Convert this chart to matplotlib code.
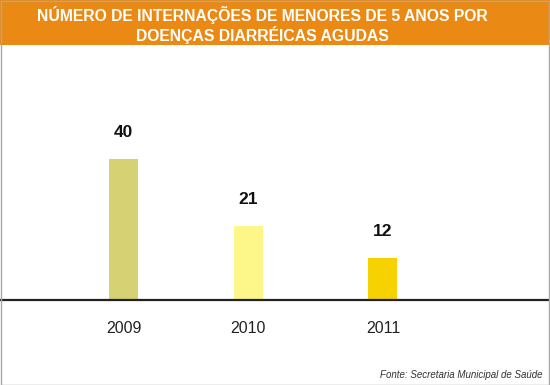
import matplotlib
matplotlib.use("Agg")
import matplotlib.pyplot as plt
from matplotlib.patches import Rectangle

years = ["2009", "2010", "2011"]
values = [40, 21, 12]
bar_colors = ["#D6D273", "#FDF689", "#F6D200"]
title = "NÚMERO DE INTERNAÇÕES DE MENORES DE 5 ANOS POR\nDOENÇAS DIARRÉICAS AGUDAS"
source = "Fonte: Secretaria Municipal de Saúde"

plt.rcParams['font.family'] = ['Liberation Sans', 'DejaVu Sans']

W, H = 550, 385
fig = plt.figure(figsize=(W / 100, H / 100), dpi=100)
fig.patch.set_facecolor("white")

# header band
fig.patches.append(Rectangle((0, 1 - 45 / H), 1, 45 / H, transform=fig.transFigure,
                             facecolor="#EA8A14", edgecolor="none", zorder=0))
# outer border
fig.patches.append(Rectangle((0.5 / W, 0.5 / H), 1 - 1.5 / W, 1 - 1.5 / H, transform=fig.transFigure,
                             facecolor="none", edgecolor="#A8A8A8", linewidth=1.0, zorder=5))

fig.text(262 / W, 1 - 25 / H, title, ha="center", va="center", color="white",
         fontsize=11.3, fontweight="bold", linespacing=1.15)

base_px = 300
top_px = 55
ax = fig.add_axes([0, (H - base_px) / H, 1, (base_px - top_px) / H])
ax.set_facecolor("none")
px_per_unit = 3.53
ax.set_ylim(0, (base_px - top_px) / px_per_unit)

x_pos = [0, 1, 2.084]
xscale = 124.5
ax.set_xlim(-123.5 / xscale, (550 - 123.5) / xscale)

ax.bar(x_pos, values, width=29 / xscale, color=bar_colors, edgecolor="none", zorder=2)
for x, v in zip(x_pos, values):
    ax.annotate(str(v), (x, v), xytext=(0, 26), textcoords="offset pixels",
                ha="center", va="center", fontsize=12.5, fontweight="bold", color="#111111")

for s in ["top", "right", "left"]:
    ax.spines[s].set_visible(False)
ax.spines["bottom"].set_color("#222222")
ax.spines["bottom"].set_linewidth(1.6)
ax.set_yticks([])
ax.set_xticks(x_pos)
ax.set_xticklabels(years, fontsize=11.5, color="#222222")
ax.tick_params(axis="x", length=0, pad=15)

fig.text(542 / W, 1 - 375 / H, source, ha="right", va="center", fontsize=7,
         style="italic", color="#333333")

fig.savefig("out.png", dpi=100)
